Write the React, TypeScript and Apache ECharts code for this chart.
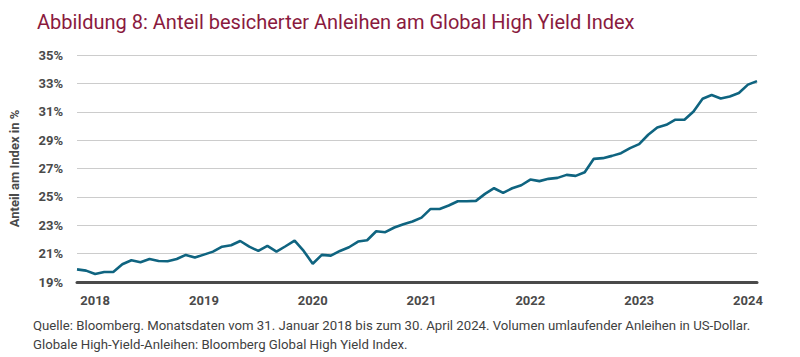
import React, { useEffect, useRef } from "react";
import * as echarts from "echarts";

const startYear = 2018;
const values: number[] = [
  19.89, 19.8, 19.56, 19.71, 19.71, 20.25, 20.53, 20.39, 20.62, 20.48, 20.46, 20.62,
  20.91, 20.72, 20.93, 21.14, 21.49, 21.59, 21.89, 21.49, 21.19, 21.54, 21.14, 21.52,
  21.92, 21.19, 20.29, 20.91, 20.86, 21.19, 21.45, 21.85, 21.94, 22.58, 22.51, 22.84,
  23.07, 23.26, 23.54, 24.15, 24.15, 24.39, 24.69, 24.69, 24.72, 25.21, 25.61, 25.28,
  25.61, 25.82, 26.22, 26.11, 26.27, 26.34, 26.55, 26.48, 26.74, 27.68, 27.73, 27.89,
  28.08, 28.44, 28.72, 29.38, 29.89, 30.08, 30.44, 30.44, 31.02, 31.92, 32.18, 31.94,
  32.08, 32.32, 32.91, 33.16,
];
const months: string[] = values.map((_, i) => {
  const y = startYear + Math.floor(i / 12);
  const m = (i % 12) + 1;
  return `${y}-${m < 10 ? "0" + m : m}`;
});
const yTicks = { min: 19, max: 35, step: 2 };
const titleText = "Abbildung 8: Anteil besicherter Anleihen am Global High Yield Index";
const yAxisName = "Anteil am Index in %";
const footLines = [
  "Quelle: Bloomberg. Monatsdaten vom 31. Januar 2018 bis zum 30. April 2024. Volumen umlaufender Anleihen in US-Dollar.",
  "Globale High-Yield-Anleihen: Bloomberg Global High Yield Index.",
];

export default function App() {
  const ref = useRef<HTMLDivElement>(null);
  useEffect(() => {
    if (!ref.current) return;
    const chart = echarts.init(ref.current, undefined, { renderer: "svg" });
    const font = "Roboto, 'Noto Sans', sans-serif";
    chart.setOption({
      animation: false,
      backgroundColor: "#ffffff",
      textStyle: { fontFamily: font },
      title: {
        text: titleText,
        left: 32,
        top: 7,
        textStyle: { fontSize: 20, fontWeight: "normal", color: "#8a1a3e", fontFamily: font },
      },
      grid: { left: 76, right: 43, top: 55, bottom: 75, containLabel: false },
      xAxis: {
        type: "category",
        data: months,
        boundaryGap: false,
        axisLine: { show: true, lineStyle: { color: "#4a4a4a", width: 3 } },
        axisTick: { show: false },
        splitLine: { show: false },
        axisLabel: {
          interval: (index: number) => index % 12 === 2,
          formatter: (v: string) => v.slice(0, 4),
          color: "#4a4a4a",
          fontSize: 13,
          fontWeight: "bold",
          margin: 12,
          fontFamily: font,
        },
      },
      yAxis: {
        type: "value",
        min: yTicks.min,
        max: yTicks.max,
        interval: yTicks.step,
        name: yAxisName,
        nameLocation: "middle",
        nameGap: 56,
        nameRotate: 90,
        nameTextStyle: { color: "#4a4a4a", fontSize: 13, fontWeight: "bold", fontFamily: font },
        axisLine: { show: false },
        axisTick: { show: false },
        splitLine: { show: true, lineStyle: { color: "#cccccc", width: 1 } },
        axisLabel: {
          formatter: (v: number) => `${v}%`,
          color: "#4a4a4a",
          fontSize: 13,
          fontWeight: "bold",
          margin: 14,
          fontFamily: font,
        },
      },
      series: [
        {
          type: "line",
          data: values,
          symbol: "none",
          lineStyle: { color: "#0f6480", width: 2.6 },
          z: 5,
        },
      ],
      graphic: footLines.map((t, i) => ({
        type: "text",
        left: 33,
        top: 319 + i * 19,
        style: { text: t, fontSize: 13.2, fill: "#3f3f3f", fontFamily: font },
      })),
    });
    return () => chart.dispose();
  }, []);
  return (
    <div
      ref={ref}
      style={{ position: "absolute", left: 0, top: 0, width: 800, height: 357 }}
    />
  );
}
